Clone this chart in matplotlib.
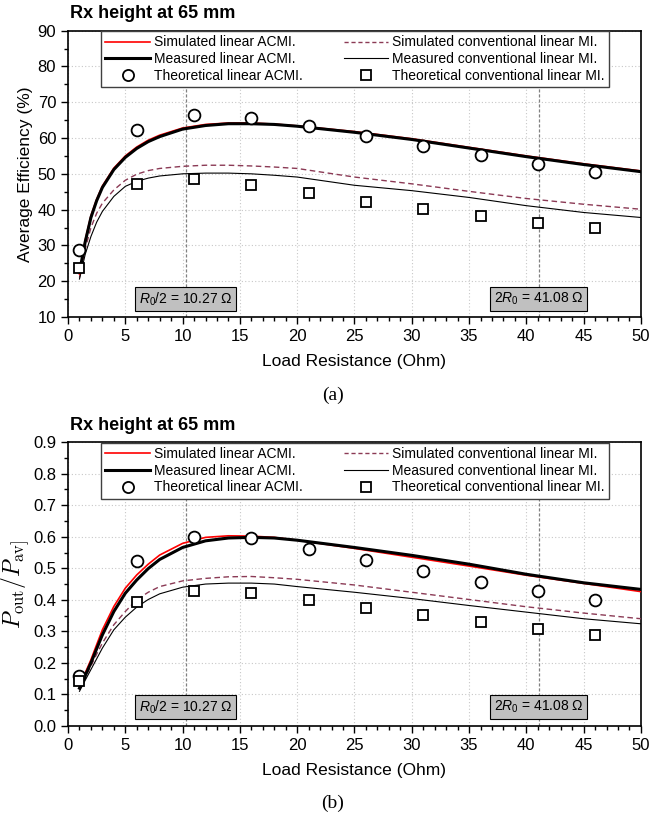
import matplotlib
matplotlib.use("Agg")
import matplotlib.pyplot as plt
from matplotlib.lines import Line2D
from matplotlib.ticker import MultipleLocator, FormatStrFormatter

plt.rcParams['font.family'] = ['Liberation Sans', 'DejaVu Sans']
plt.rcParams['mathtext.fontset'] = 'custom'
plt.rcParams['mathtext.rm'] = 'Liberation Sans'
plt.rcParams['mathtext.it'] = 'Liberation Sans:italic'

# ---------------- data ----------------
x_pts = [1, 6, 11, 16, 21, 26, 31, 36, 41, 46]
x_curve = [1, 1.5, 2, 2.5, 3, 4, 5, 6, 7, 8, 10, 12, 14, 16, 18, 20, 25, 30, 35, 40, 45, 50]

# (a) average efficiency (%)
eff_sim_acmi = [22.0, 31.5, 38.3, 42.9, 46.6, 51.6, 55.0, 57.5, 59.4, 60.8, 62.8, 63.8, 64.2, 64.2, 63.9, 63.4, 61.8, 59.8, 57.4, 55.0, 52.8, 50.8]
eff_meas_acmi = [22.5, 31.0, 37.8, 42.5, 46.2, 51.2, 54.6, 57.1, 59.0, 60.4, 62.5, 63.5, 64.0, 64.0, 63.8, 63.3, 61.6, 59.6, 57.2, 54.8, 52.6, 50.6]
eff_sim_conv = [21.0, 29.0, 35.0, 39.0, 41.8, 45.5, 48.2, 49.9, 50.9, 51.5, 52.1, 52.4, 52.4, 52.2, 51.9, 51.5, 49.1, 47.2, 45.1, 43.1, 41.5, 40.1]
eff_meas_conv = [20.6, 27.5, 32.5, 36.5, 39.5, 43.7, 46.5, 47.9, 48.8, 49.4, 50.0, 50.2, 50.2, 50.0, 49.6, 49.1, 46.8, 45.3, 43.4, 41.1, 39.2, 37.8]
eff_theo_acmi = [28.8, 62.3, 66.4, 65.5, 63.4, 60.5, 57.9, 55.3, 52.8, 50.5]
eff_theo_conv = [23.6, 47.2, 48.5, 46.8, 44.7, 42.2, 40.1, 38.1, 36.3, 34.8]

# (b) Pout / Pav
p_sim_acmi = [0.120, 0.168, 0.210, 0.258, 0.305, 0.379, 0.437, 0.479, 0.513, 0.542, 0.579, 0.598, 0.603, 0.602, 0.598, 0.589, 0.563, 0.535, 0.507, 0.478, 0.452, 0.426]
p_meas_acmi = [0.120, 0.160, 0.200, 0.245, 0.289, 0.363, 0.421, 0.463, 0.499, 0.528, 0.566, 0.587, 0.596, 0.598, 0.596, 0.589, 0.566, 0.541, 0.513, 0.481, 0.454, 0.433]
p_sim_conv = [0.115, 0.155, 0.190, 0.228, 0.263, 0.321, 0.363, 0.400, 0.424, 0.442, 0.460, 0.468, 0.473, 0.474, 0.470, 0.465, 0.447, 0.424, 0.401, 0.378, 0.358, 0.340]
p_meas_conv = [0.110, 0.145, 0.179, 0.213, 0.247, 0.305, 0.345, 0.377, 0.401, 0.419, 0.440, 0.450, 0.453, 0.453, 0.450, 0.442, 0.424, 0.404, 0.382, 0.361, 0.340, 0.324]
p_theo_acmi = [0.158, 0.523, 0.600, 0.595, 0.561, 0.527, 0.491, 0.457, 0.427, 0.399]
p_theo_conv = [0.142, 0.392, 0.428, 0.421, 0.400, 0.374, 0.351, 0.329, 0.309, 0.290]

r_half = 10.27
r_double = 41.08
legend_labels = ["Simulated linear ACMI.", "Measured linear ACMI.", "Theoretical linear ACMI.",
                 "Simulated conventional linear MI.", "Measured conventional linear MI.",
                 "Theoretical conventional linear MI."]

RED = '#ff0000'
MAROON = '#8b3a55'

fig = plt.figure(figsize=(6.51, 8.18), dpi=100)
ax1 = fig.add_axes([0.1045, 0.6125, 0.880, 0.350])
ax2 = fig.add_axes([0.1045, 0.1125, 0.880, 0.347])


def draw(ax, sa, ma, sc, mc, ta, tc, ylim, ymaj, ymin, fmt, box_y):
    for xv in (r_half, r_double):
        ax.axvline(xv, color='#808080', lw=0.9, ls=(0, (2.5, 1.5)), zorder=1)
    ax.plot(x_curve, sc, color=MAROON, lw=1.0, ls=(0, (4, 2.5)), zorder=3)
    ax.plot(x_curve, mc, color='black', lw=0.8, zorder=3)
    ax.plot(x_curve, sa, color=RED, lw=1.2, zorder=4)
    ax.plot(x_curve, ma, color='black', lw=2.2, zorder=5)
    ax.plot(x_pts, ta, ls='none', marker='o', ms=8.5, mfc='white', mec='black', mew=1.3, zorder=6)
    ax.plot(x_pts, tc, ls='none', marker='s', ms=7.5, mfc='white', mec='black', mew=1.3, zorder=6)

    ax.set_xlim(0, 50)
    ax.set_ylim(*ylim)
    ax.xaxis.set_major_locator(MultipleLocator(5))
    ax.xaxis.set_minor_locator(MultipleLocator(1))
    ax.yaxis.set_major_locator(MultipleLocator(ymaj))
    ax.yaxis.set_minor_locator(MultipleLocator(ymin))
    ax.yaxis.set_major_formatter(FormatStrFormatter(fmt))
    ax.grid(True, which='major', color='#c8c8c8', ls=(0, (1, 2)), lw=0.8, zorder=0)
    ax.set_axisbelow(True)
    ax.tick_params(which='major', direction='out', length=5, width=1.0, labelsize=12, top=False, right=False)
    ax.tick_params(which='minor', direction='out', length=3, width=1.0, top=False, right=False)
    for s in ax.spines.values():
        s.set_linewidth(1.2)
    ax.set_xlabel("Load Resistance (Ohm)", fontsize=12.5, labelpad=7)

    bprops = dict(boxstyle='square,pad=0.25', fc='#c0c0c0', ec='black', lw=0.8)
    ax.text(r_half, box_y, r"$R_0$/2 = 10.27 Ω", ha='center', va='center', fontsize=10,
            bbox=bprops, zorder=7)
    ax.text(r_double, box_y, r"2$R_0$ = 41.08 Ω", ha='center', va='center', fontsize=10,
            bbox=bprops, zorder=7)

    handles = [Line2D([], [], color=RED, lw=1.2),
               Line2D([], [], color='black', lw=2.2),
               Line2D([], [], ls='none', marker='o', ms=8, mfc='white', mec='black', mew=1.3),
               Line2D([], [], color=MAROON, lw=1.0, ls=(0, (3, 2))),
               Line2D([], [], color='black', lw=0.8),
               Line2D([], [], ls='none', marker='s', ms=7, mfc='white', mec='black', mew=1.3)]
    leg = ax.legend(handles, legend_labels, ncol=2, loc='upper left',
                    bbox_to_anchor=(0.058, 0.998, 0.886, 0.0), mode='expand',
                    fontsize=10, frameon=True, fancybox=False, edgecolor='#404040',
                    framealpha=1, handlelength=3.2, handletextpad=0.3, labelspacing=0.2,
                    borderpad=0.3, columnspacing=1.0, borderaxespad=0)
    leg.get_frame().set_linewidth(1.0)
    leg.set_zorder(10)


draw(ax1, eff_sim_acmi, eff_meas_acmi, eff_sim_conv, eff_meas_conv, eff_theo_acmi, eff_theo_conv,
     (10, 90), 10, 5, '%d', 15)
ax1.set_ylabel("Average Efficiency (%)", fontsize=12.5, labelpad=3)

draw(ax2, p_sim_acmi, p_meas_acmi, p_sim_conv, p_meas_conv, p_theo_acmi, p_theo_conv,
     (0, 0.9), 0.1, 0.05, '%.1f', 0.06)
ax2.set_ylabel(r"$P_{\mathrm{out}}/P_{\mathrm{av]}}$", fontsize=17, labelpad=1, math_fontfamily='cm')

fig.text(0.107, 0.983, "Rx height at 65 mm", fontsize=13, fontweight='bold', ha='left', va='center')
fig.text(0.107, 0.480, "Rx height at 65 mm", fontsize=13, fontweight='bold', ha='left', va='center')
fig.text(0.511, 0.517, "(a)", fontsize=14, ha='center', va='center', family='Liberation Serif')
fig.text(0.511, 0.0183, "(b)", fontsize=14, ha='center', va='center', family='Liberation Serif')

fig.savefig("out.png", dpi=100)
